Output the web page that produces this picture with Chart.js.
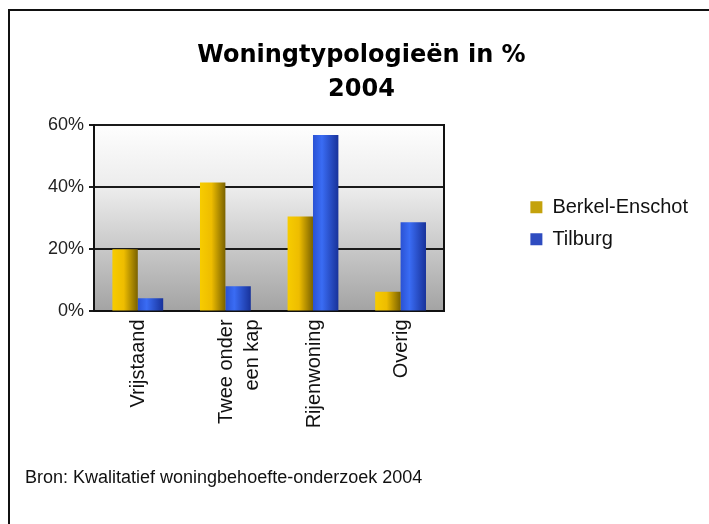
<!DOCTYPE html>
<html>
<head>
<meta charset="utf-8">
<script src="https://cdn.jsdelivr.net/npm/chart.js@4/dist/chart.umd.min.js"></script>
<style>
    body { margin: 0; background: #fff; }
    #wrap { position: relative; width: 709px; height: 524px; overflow: hidden; }
    #frame { position: absolute; left: 8px; top: 9px; width: 760px; height: 560px; border: 2px solid #111; }
    #myChart { position: absolute; left: 0; top: 0; }
</style>
</head>
<body>
<div id="wrap">
    <div id="frame"></div>
    <canvas id="myChart" width="709" height="524"></canvas>
</div>
<script>
const categories = ['Vrijstaand', ['Twee onder', 'een kap'], 'Rijenwoning', 'Overig'];
const berkelEnschot = [20, 41.5, 30.6, 6.3];
const tilburg = [4.2, 8.1, 56.8, 28.7];
const yTicks = [0, 20, 40, 60];

const catPct = 0.58;

// gradient across one bar, worked out from the category scale
const barFill = (stops) => {
    return (context) => {
        const chart = context.chart;
        const x = chart.scales.x;
        if (!chart.chartArea || !x || context.type !== 'data') {
            return stops[0][1];
        }
        const step = x.width / categories.length;
        const w = step * catPct / 2;
        const c = x.getPixelForValue(context.dataIndex);
        const x0 = context.datasetIndex === 0 ? c - w : c;
        const g = chart.ctx.createLinearGradient(x0, 0, x0 + w, 0);
        stops.forEach(s => g.addColorStop(s[0], s[1]));
        return g;
    }
}

const yellowStops = [[0, '#f7cc00'], [0.45, '#eebd00'], [1, '#7a6200']];
const blueStops = [[0, '#2a52d4'], [0.35, '#3a6cf4'], [1, '#18329a']];

// grey plot background, white at the top
const plotBackground = {
    id: 'plotBackground',
    beforeDraw: (chart) => {
        const { ctx, chartArea } = chart;
        const g = ctx.createLinearGradient(0, chartArea.top, 0, chartArea.bottom);
        g.addColorStop(0, '#fefefe');
        g.addColorStop(0.35, '#ebebeb');
        g.addColorStop(1, '#a3a3a3');
        ctx.save();
        ctx.fillStyle = g;
        ctx.fillRect(chartArea.left, chartArea.top, chartArea.width, chartArea.height);
        ctx.restore();
    }
}

const ctx = document.getElementById('myChart');
new Chart(ctx, {
    type: 'bar',
    data: {
        labels: categories,
        datasets: [{
            label: 'Berkel-Enschot',
            data: berkelEnschot,
            backgroundColor: barFill(yellowStops),
            legendColor: '#c4a20c'
        }, {
            label: 'Tilburg',
            data: tilburg,
            backgroundColor: barFill(blueStops),
            legendColor: '#2e4cc0'
        }]
    },
    options: {
        responsive: false,
        animation: false,
        events: [],
        datasets: {
            bar: { categoryPercentage: catPct, barPercentage: 1 }
        },
        layout: { padding: { left: 25, right: 11, top: 0, bottom: 0 } },
        scales: {
            x: {
                grid: { display: false, drawTicks: false },
                border: { display: true, color: '#111', width: 2 },
                ticks: {
                    minRotation: 90,
                    maxRotation: 90,
                    padding: 8,
                    labelOffset: 1,
                    color: '#111',
                    font: { family: 'Liberation Sans', size: 20, lineHeight: 1.3 }
                },
                afterFit: (s) => { s.height = 146; }
            },
            y: {
                min: 0,
                max: 60,
                afterBuildTicks: (s) => { s.ticks = yTicks.map(v => ({ value: v })); },
                grid: { color: '#1a1a1a', lineWidth: 2, tickLength: 5 },
                border: { display: true, color: '#111', width: 2 },
                ticks: {
                    padding: 5,
                    color: '#222',
                    font: { family: 'Liberation Sans', size: 18 },
                    callback: (v) => v + '%'
                },
                afterFit: (s) => { s.width = 69; }
            },
            y2: {
                position: 'right',
                min: 0,
                max: 60,
                grid: { display: false, drawTicks: false },
                border: { display: true, color: '#111', width: 2 },
                ticks: { display: false },
                afterFit: (s) => { s.width = 74; }
            }
        },
        plugins: {
            title: {
                display: true,
                text: ['Woningtypologieën in %', '2004'],
                color: '#000',
                font: { family: 'DejaVu Sans', size: 24, weight: 'bold', lineHeight: 1.42 },
                padding: { top: 39, bottom: 18 }
            },
            subtitle: {
                display: true,
                position: 'bottom',
                align: 'start',
                text: 'Bron: Kwalitatief woningbehoefte-onderzoek 2004',
                color: '#111',
                font: { family: 'Liberation Sans', size: 18, lineHeight: 1.2 },
                padding: { top: 10, bottom: 35 }
            },
            legend: {
                position: 'right',
                fullSize: false,
                maxWidth: 260,
                title: { display: true, text: '', font: { size: 10, lineHeight: 1 }, padding: 0 },
                labels: {
                    boxWidth: 12,
                    boxHeight: 12,
                    padding: 12,
                    color: '#111',
                    font: { family: 'Liberation Sans', size: 20 },
                    generateLabels: (chart) => {
                        return chart.data.datasets.map((ds, i) => ({
                            text: ds.label,
                            fillStyle: ds.legendColor,
                            strokeStyle: ds.legendColor,
                            lineWidth: 0,
                            fontColor: '#111',
                            datasetIndex: i
                        }));
                    }
                }
            },
            tooltip: { enabled: false }
        }
    },
    plugins: [plotBackground]
});
</script>
</body>
</html>
